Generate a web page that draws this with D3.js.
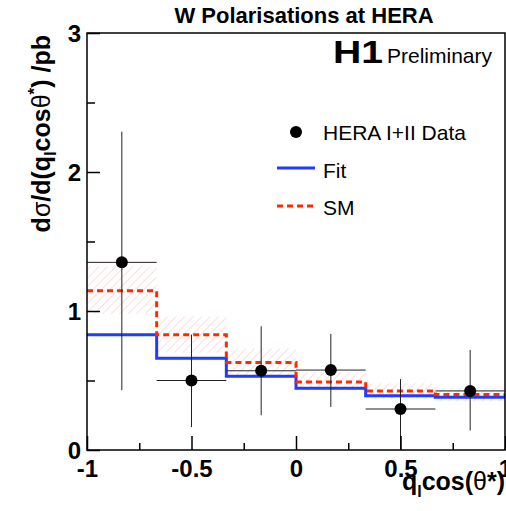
<!DOCTYPE html>
<html>
<head>
<meta charset="utf-8">
<script src="https://cdn.jsdelivr.net/npm/d3@7"></script>
<style>
  body { margin: 0; background: #fff; }
  svg { display: block; font-family: "Liberation Sans", Arial, Helvetica, sans-serif; }
</style>
</head>
<body>
<svg id="chart" width="506" height="511"></svg>
<script>
// bin edges in q_l cos(theta*)
var binEdges = [-1, -2/3, -1/3, 0, 1/3, 2/3, 1];
// data points (bin centres) with asymmetric errors
var dataX = [-5/6, -1/2, -1/6, 1/6, 1/2, 5/6];
var dataY = [1.35, 0.50, 0.57, 0.575, 0.295, 0.425];
var dataHi = [2.29, 0.83, 0.89, 0.835, 0.51, 0.72];
var dataLo = [0.43, 0.165, 0.25, 0.31, 0.0, 0.14];
// fit and SM histograms
var fitVals = [0.83, 0.66, 0.53, 0.445, 0.39, 0.38];
var smVals = [1.145, 0.83, 0.63, 0.49, 0.425, 0.40];
var smLo = [0.98, 0.70, 0.54, 0.43, 0.37, 0.35];
var smHi = [1.32, 0.96, 0.73, 0.56, 0.48, 0.45];
// ticks
var xMajor = [-1, -0.5, 0, 0.5, 1];
var xMinor = [-0.75, -0.25, 0.25, 0.75];
var yMajor = [0, 1, 2, 3];
var yMinor = [0.5, 1.5, 2.5];

var svg = d3.select("#chart");
var padL = 87, padR = 505, padT = 33, padB = 450;

var x = d3.scaleLinear().domain([-1, 1]).range([padL, padR]);
var y = d3.scaleLinear().domain([0, 3]).range([padB, padT]);

var fmt = function (d) { return String(d); };

// hatch pattern for SM uncertainty
var defs = svg.append("defs");
defs.append("pattern")
    .attr("id", "hatch")
    .attr("patternUnits", "userSpaceOnUse")
    .attr("width", 6).attr("height", 6)
    .attr("patternTransform", "rotate(45)")
    .append("line")
    .attr("x1", 0).attr("y1", 0).attr("x2", 0).attr("y2", 6)
    .attr("stroke", "#f7c0c0").attr("stroke-width", 1);
defs.append("clipPath").attr("id", "plotclip")
    .append("rect").attr("x", padL).attr("y", padT)
    .attr("width", padR - padL).attr("height", padB - padT);

var plot = svg.append("g").attr("clip-path", "url(#plotclip)");

// SM band
plot.append("g").selectAll("rect")
    .data(smLo)
    .enter()
    .append("rect")
    .attr("x", function (d, i) { return x(binEdges[i]); })
    .attr("width", function (d, i) { return x(binEdges[i + 1]) - x(binEdges[i]); })
    .attr("y", function (d, i) { return y(smHi[i]); })
    .attr("height", function (d, i) { return y(d) - y(smHi[i]); })
    .attr("fill", "url(#hatch)");

var step = d3.line()
    .x(function (d) { return x(d[0]); })
    .y(function (d) { return y(d[1]); })
    .curve(d3.curveStepAfter);

function histPts(vals) {
    var pts = vals.map(function (v, i) { return [binEdges[i], v]; });
    pts.push([binEdges[binEdges.length - 1], vals[vals.length - 1]]);
    return pts;
}

plot.append("path")
    .attr("d", step(histPts(fitVals)))
    .attr("fill", "none")
    .attr("stroke", "#1f3cff")
    .attr("stroke-width", 3);

plot.append("path")
    .attr("d", step(histPts(smVals)))
    .attr("fill", "none")
    .attr("stroke", "#ff2a00")
    .attr("stroke-width", 3)
    .attr("stroke-dasharray", "6,4");

// data error bars
var pts = plot.append("g").selectAll("g")
    .data(dataY)
    .enter()
    .append("g");
pts.append("line")
    .attr("x1", function (d, i) { return x(binEdges[i]); })
    .attr("x2", function (d, i) { return x(binEdges[i + 1]); })
    .attr("y1", function (d) { return y(d); })
    .attr("y2", function (d) { return y(d); })
    .attr("stroke", "#222").attr("stroke-width", 1);
pts.append("line")
    .attr("x1", function (d, i) { return x(dataX[i]); })
    .attr("x2", function (d, i) { return x(dataX[i]); })
    .attr("y1", function (d, i) { return y(dataHi[i]); })
    .attr("y2", function (d, i) { return y(dataLo[i]); })
    .attr("stroke", "#222").attr("stroke-width", 1);
pts.append("circle")
    .attr("cx", function (d, i) { return x(dataX[i]); })
    .attr("cy", function (d) { return y(d); })
    .attr("r", 6)
    .attr("fill", "#000");

// frame
svg.append("rect")
    .attr("x", padL).attr("y", padT)
    .attr("width", padR - padL).attr("height", padB - padT)
    .attr("fill", "none").attr("stroke", "#000").attr("stroke-width", 1.5);

// axes (ticks inside)
var xAxis = svg.append("g").attr("transform", "translate(0," + padB + ")")
    .call(d3.axisBottom(x).tickValues(xMajor).tickSize(-14).tickFormat(fmt));
svg.append("g").attr("transform", "translate(0," + padB + ")")
    .call(d3.axisBottom(x).tickValues(xMinor).tickSize(-7).tickFormat(""));
var yAxis = svg.append("g").attr("transform", "translate(" + padL + ",0)")
    .call(d3.axisLeft(y).tickValues(yMajor).tickSize(-13).tickFormat(fmt));
svg.append("g").attr("transform", "translate(" + padL + ",0)")
    .call(d3.axisLeft(y).tickValues(yMinor).tickSize(-8).tickFormat(""));

svg.selectAll(".domain").remove();
svg.selectAll(".tick line").attr("stroke", "#000").attr("stroke-width", 1.5);
xAxis.selectAll("text")
    .attr("y", 27).attr("dy", 0)
    .attr("font-size", 24).attr("font-weight", "bold")
    .attr("font-family", "Liberation Sans, Arial, sans-serif")
    .attr("fill", "#000");
yAxis.selectAll("text")
    .attr("x", -6).attr("dy", "0.36em")
    .attr("font-size", 24).attr("font-weight", "bold")
    .attr("font-family", "Liberation Sans, Arial, sans-serif")
    .attr("fill", "#000");

// title
svg.append("text")
    .attr("x", 304).attr("y", 23)
    .attr("text-anchor", "middle")
    .attr("font-size", 22).attr("font-weight", "bold")
    .text("W Polarisations at HERA");

// H1 Preliminary
svg.append("text")
    .attr("x", 333).attr("y", 63)
    .attr("font-size", 32).attr("font-weight", "bold")
    .attr("textLength", 50).attr("lengthAdjust", "spacingAndGlyphs")
    .text("H1");
svg.append("text")
    .attr("x", 387).attr("y", 63)
    .attr("font-size", 21)
    .text("Preliminary");

// legend
var legend = svg.append("g");
legend.append("circle").attr("cx", 296).attr("cy", 132).attr("r", 6).attr("fill", "#000");
legend.append("line").attr("x1", 277).attr("x2", 315).attr("y1", 168).attr("y2", 168)
    .attr("stroke", "#1f3cff").attr("stroke-width", 3);
legend.append("line").attr("x1", 277).attr("x2", 315).attr("y1", 206).attr("y2", 206)
    .attr("stroke", "#ff2a00").attr("stroke-width", 3).attr("stroke-dasharray", "6,4");
var legendLabels = ["HERA I+II Data", "Fit", "SM"];
legend.selectAll("text.lab")
    .data(legendLabels)
    .enter()
    .append("text")
    .attr("class", "lab")
    .attr("x", 323)
    .attr("y", function (d, i) { return 140 + i * 37.5; })
    .attr("font-size", 21)
    .text(function (d) { return d; });

// y axis title
var yt = svg.append("text")
    .attr("transform", "translate(50,35) rotate(-90)")
    .attr("text-anchor", "end")
    .attr("font-size", 25).attr("font-weight", "bold");
yt.append("tspan").text("d");
yt.append("tspan").attr("font-weight", "normal").text("σ");
yt.append("tspan").text("/d(q");
yt.append("tspan").attr("font-size", 16).attr("dy", 6).text("l");
yt.append("tspan").attr("dy", -6).text("cos");
yt.append("tspan").attr("font-weight", "normal").text("θ");
yt.append("tspan").attr("font-size", 17).attr("dy", -10).text("*");
yt.append("tspan").attr("dy", 10).text(") /pb");

// x axis title
var xt = svg.append("text")
    .attr("x", 505).attr("y", 490)
    .attr("text-anchor", "end")
    .attr("font-size", 25).attr("font-weight", "bold");
xt.append("tspan").text("q");
xt.append("tspan").attr("font-size", 16).attr("dy", 7).text("l");
xt.append("tspan").attr("dy", -7).text("cos(");
xt.append("tspan").attr("font-weight", "normal").text("θ");
xt.append("tspan").text("*)");
</script>
</body>
</html>
